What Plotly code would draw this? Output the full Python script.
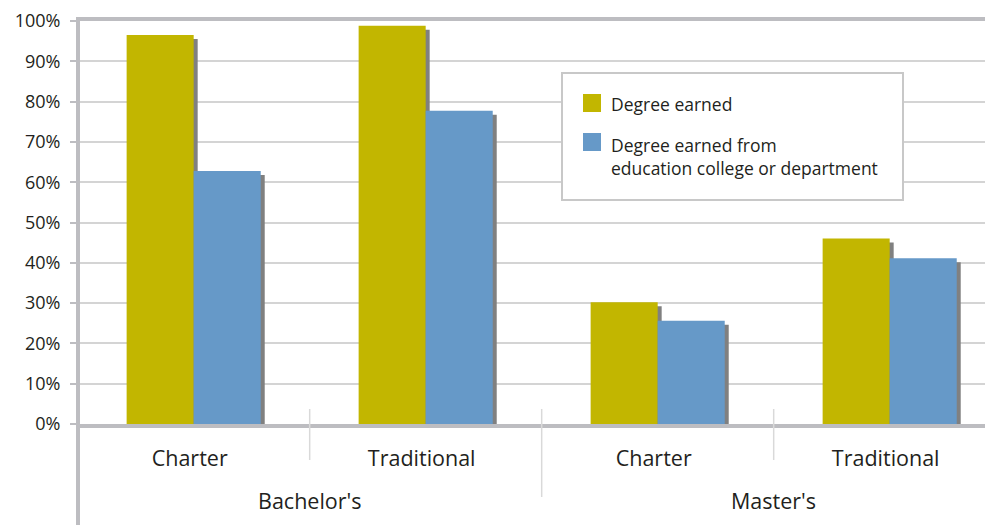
import plotly.graph_objects as go

# --- data -----------------------------------------------------------------
categories = ["Bachelor's|Charter", "Bachelor's|Traditional",
              "Master's|Charter", "Master's|Traditional"]
tick_labels = ["Charter", "Traditional", "Charter", "Traditional"]
groups = ["Bachelor's", "Master's"]
degree_earned = [0.965, 0.988, 0.302, 0.460]
degree_from_ed = [0.628, 0.777, 0.256, 0.411]
series_names = ["Degree earned", "Degree earned from<br>education college or department"]

YELLOW = "#C2B600"
BLUE = "#6699C8"
SHADOW = "#808080"
AXIS = "#BDBDC1"
GRID = "#D4D4D4"
TEXT = "#231F20"
FONT = "Open Sans, Noto Sans, sans-serif"

# the page puts an 8px body margin around the figure, so shrink to fit
OFF = 8
W, H = 993 - OFF, 525 - OFF
L, R, T, B = 72, 0, 13, 101
plot_w = W - L - R
plot_h = H - T - B
cat_px = 232.0
x_range = [-0.49, -0.49 + plot_w / cat_px]
shift_x = 4 / cat_px      # shadow offset to the right
shift_y = 4 / plot_h      # shadow offset downward


def px(v):
    """page x pixel -> paper x"""
    return (v - OFF - L) / plot_w


def py(v):
    """page y pixel -> paper y"""
    return (H - B + OFF - v) / plot_h


fig = go.Figure()

# shadows on the base axes (drawn first, sit below the bars)
for vals in (degree_earned, degree_from_ed):
    fig.add_trace(go.Bar(
        x=categories, y=vals, marker=dict(color=SHADOW, line_width=0),
        showlegend=False, hoverinfo="skip", xaxis="x", yaxis="y",
    ))

# the real bars on overlaid axes
colors = [YELLOW, BLUE]
for vals, name, color in zip((degree_earned, degree_from_ed), series_names, colors):
    fig.add_trace(go.Bar(
        x=categories, y=vals, name=name.replace("<br>", " "),
        marker=dict(color=color, line_width=0),
        showlegend=False, xaxis="x2", yaxis="y2",
    ))

shapes = [
    # y axis line continues down through the label area
    dict(type="line", xref="paper", yref="paper", x0=px(78), x1=px(78),
         y0=0, y1=-0.35, line=dict(color=AXIS, width=4), layer="above"),
]
# separators between categories, longer one between groups
for xpos, bottom in ((0.5, 460), (1.5, 497), (2.5, 460)):
    shapes.append(dict(type="line", xref="x2", yref="paper", x0=xpos, x1=xpos,
                       y0=py(409), y1=py(bottom),
                       line=dict(color="#D9D9D9", width=1.5)))

# legend box drawn by hand (bigger swatches than plotly's legend)
shapes.append(dict(type="rect", xref="paper", yref="paper",
                   x0=px(562), x1=px(903), y0=py(200), y1=py(73),
                   fillcolor="white", line=dict(color="#C8C8C8", width=2),
                   layer="above"))
annotations = []
for name, color, sq_top, txt_y in zip(series_names, colors, (94, 133), (104, 156)):
    shapes.append(dict(type="rect", xref="paper", yref="paper",
                       x0=px(583), x1=px(601), y0=py(sq_top + 18), y1=py(sq_top),
                       fillcolor=color, line_width=0, layer="above"))
    annotations.append(dict(x=px(609), y=py(txt_y), xref="paper", yref="paper",
                            text=name, showarrow=False, align="left",
                            xanchor="left", yanchor="middle",
                            font=dict(size=17.5, color=TEXT, family=FONT)))

for i, g in enumerate(groups):
    annotations.append(dict(x=i * 2 + 0.5, xref="x2", y=py(500), yref="paper", text=g,
                            showarrow=False, font=dict(size=21.5, color=TEXT, family=FONT),
                            xanchor="center", yanchor="middle"))

fig.update_layout(
    width=W, height=H,
    margin=dict(l=L, r=R, t=T, b=B),
    paper_bgcolor="white", plot_bgcolor="white",
    barmode="group", bargap=0.422, bargroupgap=0,
    font=dict(family=FONT, color=TEXT),
    showlegend=False,
    xaxis=dict(type="category", range=[x_range[0] - shift_x, x_range[1] - shift_x],
               visible=False, fixedrange=True),
    yaxis=dict(range=[shift_y, 1 + shift_y], visible=False, fixedrange=True),
    xaxis2=dict(
        type="category", overlaying="x", anchor="y2", range=x_range,
        tickvals=categories, ticktext=tick_labels,
        tickfont=dict(size=21.5, color=TEXT), ticks="", ticklabelstandoff=12,
        ticklabelshift=-4,
        showgrid=False, showline=True, linecolor=AXIS, linewidth=4, mirror=True,
    ),
    yaxis2=dict(
        overlaying="y", anchor="x2", range=[0, 1], dtick=0.1, tickformat=".0%",
        tickfont=dict(size=18, color=TEXT), ticks="outside", ticklen=6,
        tickcolor=AXIS, tickwidth=2, ticklabelstandoff=6,
        showgrid=True, gridcolor=GRID, gridwidth=2,
        showline=True, linecolor=AXIS, linewidth=4, zeroline=False,
    ),
    shapes=shapes,
    annotations=annotations,
)

fig.write_html("out.html")
